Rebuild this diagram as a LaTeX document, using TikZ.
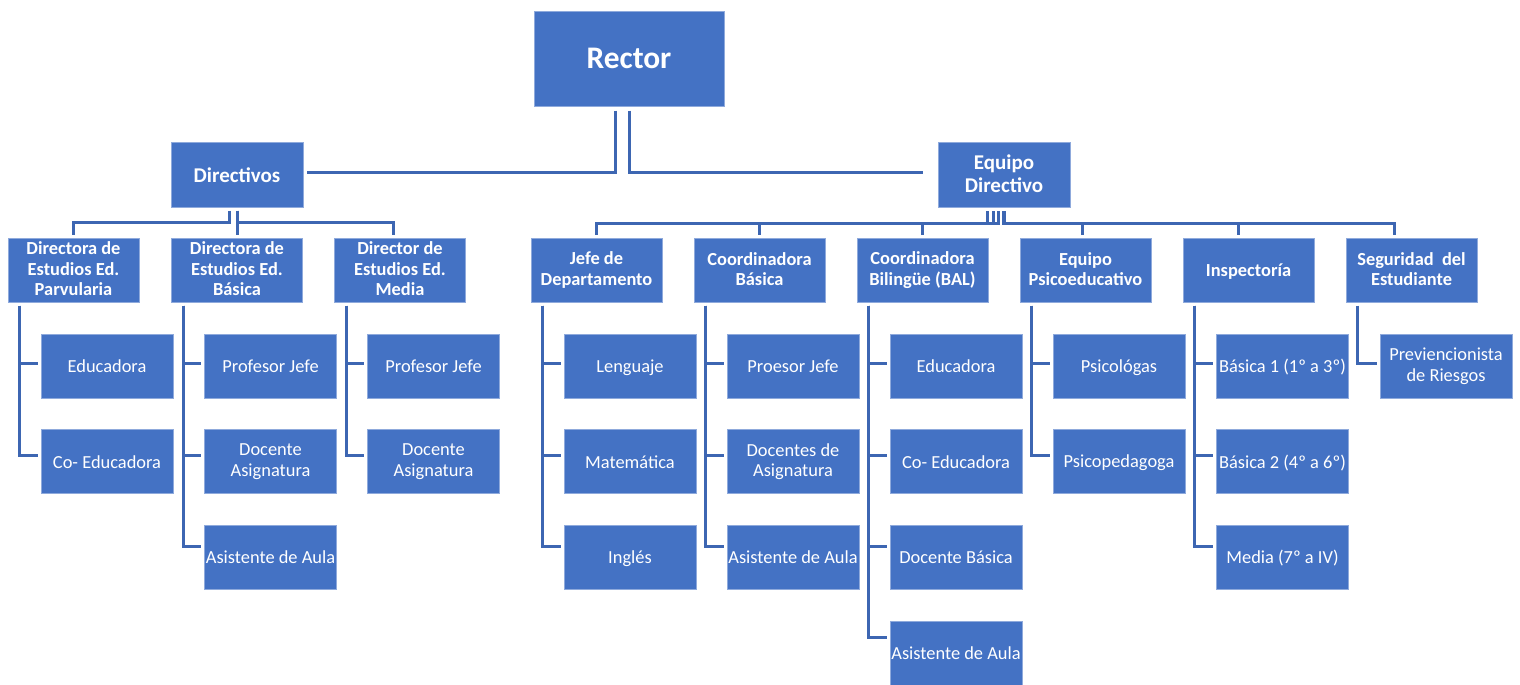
\documentclass[tikz,border=0pt]{standalone}
\usepackage{fontspec}
\setmainfont{Carlito}
\usetikzlibrary{calc}
\definecolor{boxblue}{HTML}{4472C4}
\definecolor{edgeblue}{HTML}{8FAADC}
\definecolor{linkblue}{HTML}{3D66B2}
\newcommand\kidlink[3]{\draw[conn] ($(#1.south west)+(12,3)$) |- ($(#2.west)+(-3,#3)$);}
\newcommand\boxstrut{\vrule width 0pt height 8.0pt depth 1.1pt}
\newcommand\topstrut{\vrule width 0pt height 9.1pt depth 1.25pt}
\begin{document}
\begin{tikzpicture}[x=0.5pt,y=-0.5pt,
  base/.style={rectangle, fill=boxblue, draw=edgeblue, line width=0.5pt, text=white,
    align=center, inner sep=0pt, minimum width=66pt, minimum height=32pt},
  box/.style={base, font=\fontsize{9.2}{10.3}\selectfont,
    execute at begin node=\boxstrut, execute at end node=\boxstrut},
  head/.style={box, minimum width=65.5pt, font=\bfseries\fontsize{9.2}{10.3}\selectfont},
  top/.style={base, minimum width=66pt, minimum height=32.5pt, font=\bfseries\fontsize{10.5}{11.4}\selectfont,
    execute at begin node=\topstrut, execute at end node=\topstrut},
  conn/.style={draw=linkblue, line width=1.5pt}]
\useasboundingbox (0,0) rectangle (1520,685);

% top level
\node[base, minimum width=95pt, minimum height=47.5pt, font=\bfseries\fontsize{15.7}{18}\selectfont] (rector) at (629,58.5) {Rector};
\node[top] (dirs) at (237,174.5) {Directivos};
\node[top] (equipo) at (1004,175) {Equipo\\Directivo};

% second level
\node[head] (parv) at (73.5,270) {Directora de\\Estudios Ed.\\Parvularia};
\node[head] (dbas) at (237,270) {Directora de\\Estudios Ed.\\Básica};
\node[head] (dmed) at (400,270) {Director de\\Estudios Ed.\\Media};
\node[head] (jefe) at (596.5,270) {Jefe de\\Departamento};
\node[head] (cbas) at (759.5,270) {Coordinadora\\Básica};
\node[head] (cbil) at (922.5,270) {Coordinadora\\Bilingüe (BAL)};
\node[head] (psico) at (1085.5,270) {Equipo\\Psicoeducativo};
\node[head] (insp) at (1248.5,270) {Inspectoría};
\node[head] (seg) at (1411.5,270) {Seguridad~ del\\Estudiante};

% third level
\node[box] (e1) at (107,366) {Educadora};
\node[box] (e2) at (107,461.5) {Co- Educadora};
\node[box] (b1) at (270.5,366) {Profesor Jefe};
\node[box] (b2) at (270.5,461.5) {Docente\\Asignatura};
\node[box] (b3) at (270.5,557) {Asistente de Aula};
\node[box] (m1) at (433.5,366) {Profesor Jefe};
\node[box] (m2) at (433.5,461.5) {Docente\\Asignatura};
\node[box] (j1) at (630,366) {Lenguaje};
\node[box] (j2) at (630,461.5) {Matemática};
\node[box] (j3) at (630,557) {Inglés};
\node[box] (c1) at (793,366) {Proesor Jefe};
\node[box] (c2) at (793,461.5) {Docentes de\\Asignatura};
\node[box] (c3) at (793,557) {Asistente de Aula};
\node[box] (l1) at (956,366) {Educadora};
\node[box] (l2) at (956,461.5) {Co- Educadora};
\node[box] (l3) at (956,557) {Docente Básica};
\node[box] (l4) at (956,653) {Asistente de Aula};
\node[box] (p1) at (1119,366) {Psicológas};
\node[box] (p2) at (1119,461.5) {Psicopedagoga};
\node[box] (i1) at (1282.5,366) {Básica 1 (1º a 3º)};
\node[box] (i2) at (1282.5,461.5) {Básica 2 (4º a 6º)};
\node[box] (i3) at (1282.5,557) {Media (7º a IV)};
\node[box] (s1) at (1446,366) {Previencionista\\de Riesgos};

% rector connectors
\draw[conn] ($(rector.south)+(-14,4)$) |- ($(dirs.east)+(3,-2.5)$);
\draw[conn] ($(rector.south)+(0,4)$) |- ($(equipo.west)+(-15,-3)$);

% directivos connectors
\draw[conn] ($(dirs.south)+(-8,3)$) -- ++(0,12) -| ($(parv.north)+(-0.5,-3)$);
\draw[conn] ($(dirs.south)+(0,3)$) -- ($(dbas.north)+(0,-3)$);
\draw[conn] ($(dirs.south)+(0,3)$) -- ++(0,12) -| ($(dmed.north)+(-7,-3)$);

% equipo directivo connectors
\draw[conn] ($(equipo.south)+(-17,3)$) -- ++(0,12) -| ($(jefe.north)+(-0.5,-3)$);
\draw[conn] ($(equipo.south)+(-11,3)$) -- ++(0,12) -| ($(cbas.north)+(-0.5,-3)$);
\draw[conn] ($(equipo.south)+(-6,3)$) -- ++(0,12) -| ($(cbil.north)+(-0.5,-3)$);
\draw[conn] ($(equipo.south)+(-1,3)$) -- ++(0,12) -| ($(psico.north)+(-3.5,-3)$);
\draw[conn] ($(equipo.south)+(-1,3)$) -- ++(0,12) -| ($(insp.north)+(-10.5,-3)$);
\draw[conn] ($(equipo.south)+(0,3)$) -- ++(0,12) -| ($(seg.north)+(-17.5,-3)$);

% third level connectors
\kidlink{parv}{e1}{-3}
\kidlink{parv}{e2}{-6.5}
\kidlink{dbas}{b1}{-3}
\kidlink{dbas}{b2}{-6.5}
\kidlink{dbas}{b3}{-10.5}
\kidlink{dmed}{m1}{-3}
\kidlink{dmed}{m2}{-6.5}
\kidlink{jefe}{j1}{-3}
\kidlink{jefe}{j2}{-6.5}
\kidlink{jefe}{j3}{-10.5}
\kidlink{cbas}{c1}{-3}
\kidlink{cbas}{c2}{-6.5}
\kidlink{cbas}{c3}{-10.5}
\kidlink{cbil}{l1}{-3}
\kidlink{cbil}{l2}{-6.5}
\kidlink{cbil}{l3}{-10.5}
\kidlink{cbil}{l4}{-16}
\kidlink{psico}{p1}{-3}
\kidlink{psico}{p2}{-6.5}
\kidlink{insp}{i1}{-3}
\kidlink{insp}{i2}{-6.5}
\kidlink{insp}{i3}{-10.5}
\kidlink{seg}{s1}{-3}
\end{tikzpicture}
\end{document}
